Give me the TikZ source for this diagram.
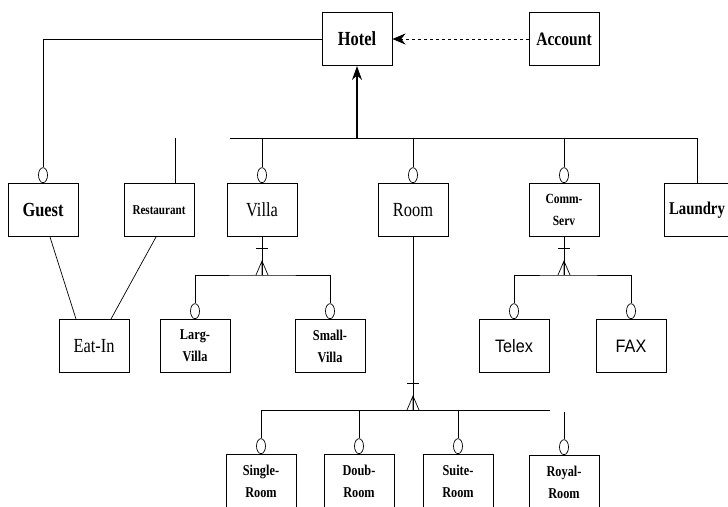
\documentclass[tikz,border=0pt]{standalone}
\usepackage{fontspec}
\setmainfont{Liberation Serif}
\newfontfamily\narrowrm[FakeStretch=0.82]{Liberation Serif}
\newfontfamily\narrowsf[FakeStretch=0.9]{Liberation Sans}
\usetikzlibrary{arrows.meta,shapes.geometric,calc,positioning}
\tikzset{
  ent/.style={draw,line width=1pt,minimum width=70pt,minimum height=53pt,inner sep=0pt,align=center,
    font=\narrowrm\fontsize{20}{22}\selectfont},
  entsm/.style={ent,font=\narrowrm\bfseries\fontsize{15}{22}\selectfont},
  entsf/.style={ent,font=\narrowsf\fontsize{18}{20}\selectfont},
  opt/.style={draw,line width=0.7pt,ellipse,minimum width=9pt,minimum height=15pt,inner sep=0pt,above=0pt of #1},
  lnk/.style={line width=0.7pt},
  crow/.pic={
    \draw[lnk] (-6,0) -- (0,-14) -- (6,0) (0,-14) -- (0,0);
    \draw[lnk] (-6,-27) -- (6,-27);
  },
}

\begin{document}
\begin{tikzpicture}[x=1pt,y=-1pt]
\useasboundingbox (0,0) rectangle (728,506);
\node[ent,font=\narrowrm\bfseries\fontsize{20}{22}\selectfont] (hotel) at (357,39) {Hotel};
\node[ent,font=\narrowrm\bfseries\fontsize{19}{20}\selectfont] (account) at (564,39) {Account};
\node[ent,font=\narrowrm\bfseries\fontsize{20}{22}\selectfont] (guest) at (43,210) {Guest};
\node[ent,font=\narrowrm\bfseries\fontsize{13.5}{20}\selectfont] (rest) at (159,210) {Restaurant};
\node[ent] (villa) at (262,210) {Villa};
\node[ent] (room) at (413,210) {Room};
\node[entsm,font=\narrowrm\bfseries\fontsize{14}{22}\selectfont] (comm) at (564,210) {Comm-\\Serv};
\node[ent,minimum width=66pt,font=\narrowrm\bfseries\fontsize{18}{20}\selectfont] (laundry) at (697,210) {Laundry};
\node[ent] (eatin) at (94,346) {Eat-In};
\node[entsm] (lvilla) at (195,346) {Larg-\\Villa};
\node[entsm] (svilla) at (330,346) {Small-\\Villa};
\node[entsf] (telex) at (514,346) {Telex};
\node[entsf] (fax) at (631,346) {FAX};
\node[entsm] (single) at (261,481) {Single-\\Room};
\node[entsm] (doub) at (359,481) {Doub-\\Room};
\node[entsm] (suite) at (458,481) {Suite-\\Room};
\node[entsm] (royal) at (564,482) {Royal-\\Room};

\node[opt=guest] (guest-o) {};
\node[opt=villa] (villa-o) {};
\node[opt=room] (room-o) {};
\node[opt=comm] (comm-o) {};
\node[opt=lvilla] (lvilla-o) {};
\node[opt=svilla] (svilla-o) {};
\node[opt=telex] (telex-o) {};
\node[opt=fax] (fax-o) {};
\node[opt=single] (single-o) {};
\node[opt=doub] (doub-o) {};
\node[opt=suite] (suite-o) {};
\node[opt=royal] (royal-o) {};

\coordinate (isa) at (357,138);
\coordinate (isa-l) at (230,138);
\coordinate (rest-t) at (175,138);
\coordinate (villa-j) at (262,275);
\coordinate (comm-j) at (564,275);
\coordinate (room-j) at (413,410);
\coordinate (room-r) at (550,410);
\coordinate (royal-t) at (564,412);

\draw[lnk,dashed,-{Stealth[length=13pt,width=11pt]}] (account) -- (hotel);
\draw[lnk] (hotel.west) -| (guest-o.north);
\draw[line width=1.2pt,-{Stealth[length=14pt,width=10pt]}] (isa) -- (hotel);
\draw[lnk] (isa-l) -- (laundry.north |- isa) -- (laundry.north);
\draw[lnk] (villa-o) -- (villa-o |- isa);
\draw[lnk] (room-o) -- (room-o |- isa);
\draw[lnk] (comm-o) -- (comm-o |- isa);
\draw[lnk] (rest-t) -- (rest-t |- rest.north);
\draw[lnk] ($(guest.south)+(7,0)$) -- ($(eatin.north)+(-18,0)$);
\draw[lnk] ($(rest.south)+(-3,0)$) -- ($(eatin.north)+(17,0)$);

\draw[lnk] (villa) -- (villa-j);
\pic at (villa-j) {crow};
\draw[lnk] (lvilla-o) |- (villa-j) -| (svilla-o);
\draw[lnk] (comm) -- (comm-j);
\pic at (comm-j) {crow};
\draw[lnk] (telex-o) |- (comm-j) -| (fax-o);
\draw[lnk] (room) -- (room-j);
\pic at (room-j) {crow};
\draw[lnk] (single-o) |- (room-r);
\draw[lnk] (doub-o) -- (doub-o |- room-j);
\draw[lnk] (suite-o) -- (suite-o |- room-j);
\draw[lnk] (royal-o) -- (royal-t);
\end{tikzpicture}
\end{document}
